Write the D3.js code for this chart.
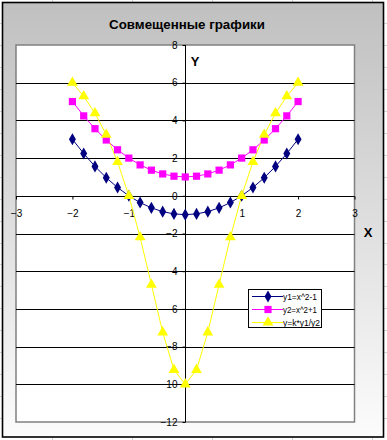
<!DOCTYPE html>
<html><head><meta charset="utf-8">
<script src="https://cdn.jsdelivr.net/npm/d3@7/dist/d3.min.js"></script>
<style>body{margin:0;background:#fff}svg{display:block}text{font-family:"Liberation Sans",Arial,sans-serif}</style>
</head><body>
<script>
const title = "Совмещенные графики";
const xs = [-2,-1.8,-1.6,-1.4,-1.2,-1,-0.8,-0.6,-0.4,-0.2,0,0.2,0.4,0.6,0.8,1,1.2,1.4,1.6,1.8,2];
const y1 = [3,2.24,1.56,0.96,0.44,0,-0.36,-0.64,-0.84,-0.96,-1,-0.96,-0.84,-0.64,-0.36,0,0.44,0.96,1.56,2.24,3];
const y2 = [5,4.24,3.56,2.96,2.44,2,1.64,1.36,1.16,1.04,1,1.04,1.16,1.36,1.64,2,2.44,2.96,3.56,4.24,5];
const y3 = [6,5.28,4.38,3.24,1.80,0,-2.20,-4.71,-7.24,-9.23,-10,-9.23,-7.24,-4.71,-2.20,0,1.80,3.24,4.38,5.28,6];
const seriesNames = ["y1=x^2-1","y2=x^2+1","y=k*y1/y2"];
const xTicks = [-3,-2,-1,1,2,3];
const yTicks = [-12,-10,-8,-6,-4,-2,0,2,4,6,8];

const W=387,H=440;
const svg=d3.select("body").append("svg").attr("width",W).attr("height",H);
// spreadsheet grid
const sg=svg.append("g").attr("stroke","#d4d4d4").attr("stroke-width",1);
for(let cx=52.5;cx<W;cx+=80) sg.append("line").attr("x1",cx).attr("x2",cx).attr("y1",0).attr("y2",H);
for(let k=0;k<21;k++){const ry=Math.round(23+21.95*k)+0.5; sg.append("line").attr("x1",0).attr("x2",W).attr("y1",ry).attr("y2",ry);}

const defs=svg.append("defs");
const gr=defs.append("linearGradient").attr("id","bg").attr("x1",0).attr("y1",0).attr("x2",0).attr("y2",1);
gr.append("stop").attr("offset","0%").attr("stop-color","#c0c0c0");
gr.append("stop").attr("offset","100%").attr("stop-color","#fcfcfc");
svg.append("rect").attr("x",2.5).attr("y",2.5).attr("width",381).attr("height",434.5)
  .attr("fill","url(#bg)").attr("stroke","#000").attr("stroke-width",1.6);

svg.append("text").attr("x",187).attr("y",29).attr("text-anchor","middle")
  .attr("font-size",13.3).attr("font-weight","bold").text(title);

const x=d3.scaleLinear().domain([-3,3]).range([16,354.5]);
const y=d3.scaleLinear().domain([-12,8]).range([422,45]);

svg.append("rect").attr("x",x(-3)).attr("y",y(8)).attr("width",x(3)-x(-3)).attr("height",y(-12)-y(8)).attr("fill","#fff");

// plot border
svg.append("rect").attr("x",x(-3)).attr("y",y(8)).attr("width",x(3)-x(-3)).attr("height",y(-12)-y(8))
  .attr("fill","none").attr("stroke","#808080").attr("stroke-width",1.5);

// y tick labels (under gridlines)
const yAx=svg.append("g").attr("transform",`translate(${Math.round(x(0))+0.5},0)`)
  .call(d3.axisLeft(y).tickValues(yTicks).tickSize(3).tickPadding(5).tickFormat(d3.format("d")));
yAx.select(".domain").remove();
yAx.selectAll("text").attr("font-size",10).attr("font-family","Liberation Sans, Arial, sans-serif").attr("fill","#000");
yAx.selectAll("line").attr("stroke","#000");

// gridlines
svg.append("g").selectAll("line").data(yTicks.filter(v=>v>-12&&v<8)).join("line")
  .attr("x1",x(-3)).attr("x2",x(3)).attr("y1",d=>Math.round(y(d))+0.5).attr("y2",d=>Math.round(y(d))+0.5)
  .attr("stroke","#000").attr("stroke-width",1);

// y axis line
svg.append("line").attr("x1",Math.round(x(0))+0.5).attr("x2",Math.round(x(0))+0.5).attr("y1",y(8)).attr("y2",y(-12)).attr("stroke","#000");

// x axis
const xAx=svg.append("g").attr("transform",`translate(0,${Math.round(y(0))+0.5})`)
  .call(d3.axisBottom(x).tickValues(xTicks).tickSize(3).tickPadding(10).tickFormat(d3.format("d")));
xAx.select(".domain").attr("stroke","#000").attr("d",`M${x(-3)},0H${x(3)}`);
xAx.selectAll("text").attr("font-size",10).attr("font-family","Liberation Sans, Arial, sans-serif").attr("fill","#000");
xAx.selectAll("line").attr("stroke","#000");

svg.append("text").attr("x",195).attr("y",66).attr("text-anchor","middle").attr("font-size",13).attr("font-weight","bold").text("Y");
svg.append("text").attr("x",368).attr("y",237).attr("text-anchor","middle").attr("font-size",13).attr("font-weight","bold").text("X");

const colors=["#000080","#ff00ff","#ffff00"];
const data=[y1,y2,y3];
const line=d3.line().x((d,i)=>x(xs[i])).y(d=>y(d));
const diamond=d3.symbol().type(d3.symbolDiamond).size(42);
const square=d3.symbol().type(d3.symbolSquare).size(52);
const tri=d3.symbol().type(d3.symbolTriangle).size(50);
const syms=[diamond,square,tri];
data.forEach((s,k)=>{
  svg.append("path").attr("d",line(s)).attr("fill","none").attr("stroke",colors[k]).attr("stroke-width",1);
});
data.forEach((s,k)=>{
  svg.append("g").selectAll("path").data(s).join("path")
    .attr("transform",(d,i)=>`translate(${x(xs[i])},${y(d)})`).attr("d",syms[k]()).attr("fill",colors[k]);
});

// legend
const lg=svg.append("g");
lg.append("rect").attr("x",248.5).attr("y",289.5).attr("width",73).attr("height",38).attr("fill","#fff").attr("stroke","#000");
const rowsY=[296,309,322];
seriesNames.forEach((n,k)=>{
  lg.append("line").attr("x1",252).attr("x2",283).attr("y1",rowsY[k]+0.5).attr("y2",rowsY[k]+0.5).attr("stroke",colors[k]);
  lg.append("path").attr("transform",`translate(268,${rowsY[k]+0.5})`).attr("d",syms[k]()).attr("fill",colors[k]);
  lg.append("text").attr("x",283).attr("y",rowsY[k]+3.5).attr("font-size",8.6).attr("textLength",n.length>8?37:34).attr("lengthAdjust","spacingAndGlyphs").text(n);
});
</script>
</body></html>
